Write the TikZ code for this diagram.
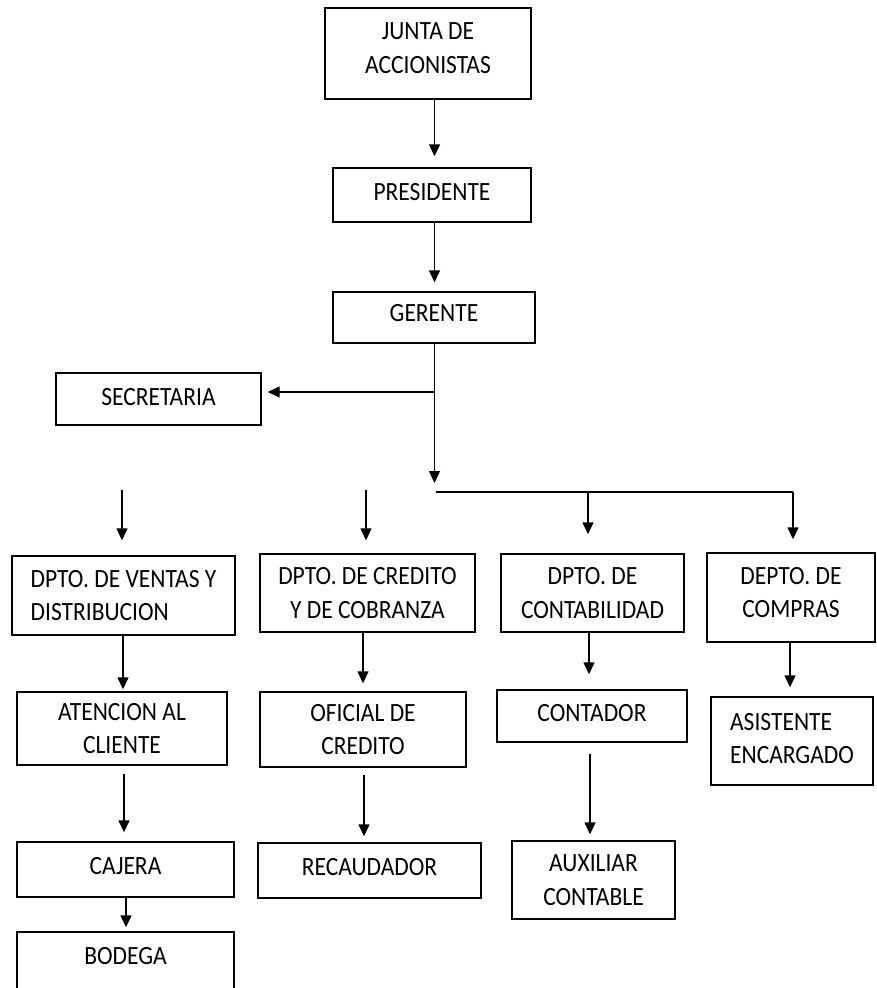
\documentclass[tikz,border=0pt]{standalone}
\usepackage{fontspec}
\setmainfont{Carlito}
\usetikzlibrary{arrows.meta}
\newcommand\vs[1]{\scalebox{1}[1.12]{#1}}
\newcommand\dpx[1]{\rule[-#1pt]{0pt}{#1pt}}
\tikzset{
  box/.style={draw, line width=1.4pt, inner sep=0pt, align=center,
    font=\fontsize{23.5}{33.5}\selectfont},
  arr/.style={line width=1.4pt, -{Triangle[length=12pt,width=11pt]}},
  ln/.style={line width=1.4pt}
}
\begin{document}
\begin{tikzpicture}[x=1pt,y=-1pt]
\clip (0,0) rectangle (876,988);
\fill[white] (0,0) rectangle (876,988);
% top chain
\node[box, minimum width=206pt, minimum height=91pt] (junta) at (428,53.5) {\vs{JUNTA DE}\\\vs{ACCIONISTAS}\dpx{11}};
\node[box, minimum width=198pt, minimum height=54pt] (pres) at (432,195) {\vs{PRESIDENTE}\dpx{6}};
\node[box, minimum width=202pt, minimum height=51pt] (ger) at (434,317.5) {\vs{GERENTE}\dpx{9}};
\node[box, minimum width=205pt, minimum height=52pt] (sec) at (158.5,399) {\vs{SECRETARIA}\dpx{4}};
% departments
\node[box, align=left, minimum width=223pt, minimum height=79pt] (ventas) at (123.5,595.5) {\vs{DPTO. DE VENTAS Y}\\\vs{DISTRIBUCION}};
\node[box, minimum width=215pt, minimum height=78pt] (credito) at (367.5,593) {\vs{DPTO. DE CREDITO}\\\vs{Y DE COBRANZA}};
\node[box, minimum width=183pt, minimum height=78pt] (contab) at (592.5,593) {\vs{DPTO. DE}\\\vs{CONTABILIDAD}};
\node[box, minimum width=168pt, minimum height=89pt] (compras) at (791,597.5) {\vs{DEPTO. DE}\\\vs{COMPRAS}\dpx{10}};
% second level
\node[box, minimum width=210pt, minimum height=73pt] (atencion) at (122,728.5) {\vs{ATENCION AL}\\\vs{CLIENTE}};
\node[box, minimum width=206pt, minimum height=75pt] (oficial) at (363,729.5) {\vs{OFICIAL DE}\\\vs{CREDITO}};
\node[box, minimum width=190pt, minimum height=52pt] (contador) at (592,716) {\vs{CONTADOR}\dpx{6}};
\node[box, align=left, minimum width=162pt, minimum height=88pt] (asistente) at (792,741) {\vs{ASISTENTE}\\\vs{ENCARGADO}\dpx{5}};
% third level
\node[box, minimum width=217pt, minimum height=55pt] (cajera) at (125.5,869.5) {\vs{CAJERA}\dpx{7}};
\node[box, minimum width=223pt, minimum height=55pt] (recaud) at (369.5,870.5) {\vs{RECAUDADOR}\dpx{7}};
\node[box, minimum width=163pt, minimum height=78pt] (auxiliar) at (593.5,880) {\vs{AUXILIAR}\\\vs{CONTABLE}};
% bodega (cut off at bottom)
\node[box, minimum width=217pt, minimum height=70pt] (bodega) at (125.5,967) {\vs{BODEGA}\dpx{22}};
% helper coordinates
\coordinate (trunk) at (434.5,0);
\coordinate (secj) at (434.5,392);
\coordinate (trunkend) at (434.5,483);
\coordinate (busL) at (436,492);
\coordinate (busR) at (793,492);
\coordinate (contj) at (588,492);
\coordinate (fv) at (122,490);
\coordinate (fc) at (366,490);
% top connectors
\draw[arr, shorten >=11pt] (junta.south -| trunk) -- (pres.north -| trunk);
\draw[arr, shorten >=9pt] (pres.south -| trunk) -- (ger.north -| trunk);
\draw[arr] (ger.south -| trunk) -- (trunkend);
\draw[arr, shorten >=6pt] (secj) -- (secj -| sec.east);
% bus
\draw[ln] (busL) -- (busR);
\draw[arr, shorten >=19pt] (contj) -- (contj |- contab.north);
\draw[arr, shorten >=13pt] (busR) -- (busR |- compras.north);
\draw[arr, shorten >=15pt] (fv) -- (fv |- ventas.north);
\draw[arr, shorten >=13pt] (fc) -- (fc |- credito.north);
% dept -> second level
\draw[arr, shorten >=2pt] (ventas.south -| 123,0) -- (atencion.north -| 123,0);
\draw[arr, shorten >=8pt] (credito.south -| 363,0) -- (oficial.north -| 363,0);
\draw[arr, shorten >=15pt] (contab.south -| 589,0) -- (contador.north -| 589,0);
\draw[arr, shorten >=9pt] (compras.south -| 790,0) -- (asistente.north -| 790,0);
% second -> third
\draw[arr, shorten <=8pt, shorten >=9pt] (atencion.south -| 124,0) -- (cajera.north -| 124,0);
\draw[arr, shorten >=4pt] (cajera.south -| 126,0) -- (bodega.north -| 126,0);
\draw[arr, shorten <=7pt, shorten >=6pt] (oficial.south -| 364,0) -- (recaud.north -| 364,0);
\draw[arr, shorten <=11pt, shorten >=6pt] (contador.south -| 590,0) -- (auxiliar.north -| 590,0);
\end{tikzpicture}
\end{document}
